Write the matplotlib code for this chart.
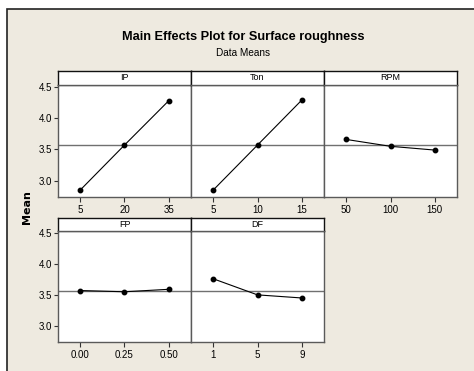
import matplotlib.pyplot as plt
from matplotlib.patches import Rectangle

# factor levels and mean responses
factors = ['IP', 'Ton', 'RPM', 'FP', 'DF']
levels = [['5', '20', '35'],
          ['5', '10', '15'],
          ['50', '100', '150'],
          ['0.00', '0.25', '0.50'],
          ['1', '5', '9']]
means = [[2.85, 3.57, 4.28],
         [2.85, 3.57, 4.29],
         [3.66, 3.55, 3.49],
         [3.57, 3.55, 3.59],
         [3.76, 3.50, 3.45]]
grand_mean = 3.57
yticks = [3.0, 3.5, 4.0, 4.5]

W, H = 474, 371
bg = '#eeeae0'
edge = '#5a5a5a'
font = 'Liberation Sans'


def box(x, y, w, h):
    # pixel box (from top-left) -> figure coords
    return [x / W, 1 - (y + h) / H, w / W, h / H]


fig = plt.figure(figsize=(W / 100, H / 100), dpi=100, facecolor='white')
fig.patches.append(Rectangle((7 / W, -0.1), 1, 1.1 - 9 / H, transform=fig.transFigure,
                             facecolor=bg, edgecolor='#222222', linewidth=1.2, zorder=-5))

fig.text(243 / W, 1 - 37 / H, 'Main Effects Plot for Surface roughness', ha='center',
         va='center', fontsize=9.2, fontweight='bold', family=font)
fig.text(243 / W, 1 - 53 / H, 'Data Means', ha='center', va='center', fontsize=7.2, family=font)
fig.text(27 / W, 1 - 207 / H, 'Mean', ha='center', va='center', rotation=90,
         fontsize=8, fontweight='bold', family='DejaVu Sans')

col_x = [58, 191, 324]
rows = [(71, 85, 112), (218, 231, 111)]  # strip top, plot top, plot height

for i, name in enumerate(factors):
    r, c = divmod(i, 3)
    st, pt, ph = rows[r]
    pw = 133
    ax = fig.add_axes(box(col_x[c], pt, pw, ph))
    ax.axhline(grand_mean, color='#707070', lw=1.0, zorder=1)
    ax.plot(range(3), means[i], color='black', lw=0.8, marker='o', ms=3.2, zorder=3)
    ax.set_xlim(-0.5, 2.5)
    ax.set_ylim(2.74, 4.53)
    ax.set_xticks(range(3))
    ax.set_xticklabels(levels[i], fontsize=7, family=font)
    ax.set_yticks(yticks)
    if c == 0:
        ax.set_yticklabels([f'{v:.1f}' for v in yticks], fontsize=7, family=font)
        ax.tick_params(axis='y', length=3, width=0.8, color='#333333', pad=1)
    else:
        ax.tick_params(axis='y', left=False, labelleft=False)
    ax.tick_params(axis='x', length=3.5, width=0.8, color='#333333', pad=2)
    for s in ax.spines.values():
        s.set_color(edge)
        s.set_linewidth(1.0)
    ax.set_facecolor('white')

    sx = fig.add_axes(box(col_x[c], st, pw, pt - st))
    sx.set_xticks([])
    sx.set_yticks([])
    sx.set_facecolor('white')
    for s in sx.spines.values():
        s.set_color('#111111')
        s.set_linewidth(1.0)
    sx.spines['bottom'].set_color(edge)
    sx.text(0.5, 0.5, name, ha='center', va='center', fontsize=6.5, family=font,
            transform=sx.transAxes)

fig.savefig('out.png', dpi=100, facecolor='white')
